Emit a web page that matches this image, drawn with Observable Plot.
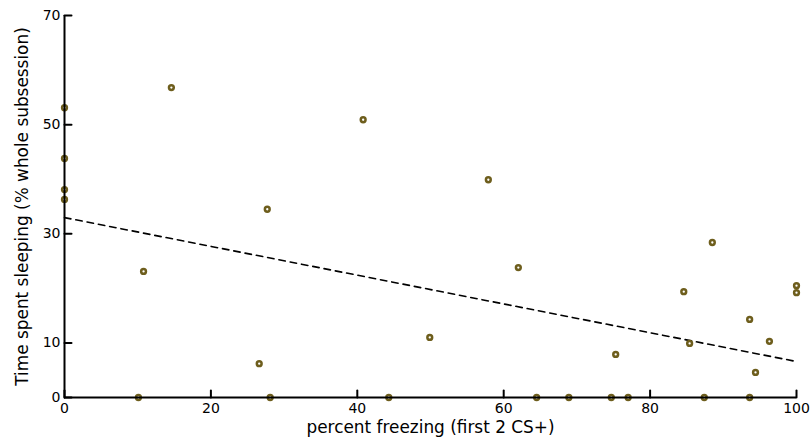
<!DOCTYPE html>
<html><head><meta charset="utf-8">
<script src="https://cdn.jsdelivr.net/npm/d3@7"></script>
<script src="https://cdn.jsdelivr.net/npm/@observablehq/plot@0.6"></script>
<style>body{margin:0;background:#fff;}</style>
</head><body><div id="chart"></div>
<script>
const freezing = [0, 0, 0, 0, 10.1, 10.8, 14.6, 26.6, 27.7, 28.1, 40.8, 44.3, 49.9, 57.9, 62.0, 64.5, 68.9, 74.7, 75.3, 77.0, 84.6, 85.4, 87.4, 88.5, 93.6, 93.6, 94.4, 96.3, 100, 100];
const sleeping = [53.1, 43.8, 38.1, 36.3, 0, 23.1, 56.8, 6.2, 34.5, 0, 50.9, 0, 11.0, 39.9, 23.8, 0, 0, 0, 7.9, 0, 19.4, 9.9, 0, 28.4, 14.3, 0, 4.6, 10.3, 20.5, 19.2];
const xTicks = [0, 20, 40, 60, 80, 100];
const yTicks = [0, 10, 30, 50, 70];
const xLabel = "percent freezing (first 2 CS+)";
const yLabel = "Time spent sleeping (% whole subsession)";

const data = freezing.map((x, i) => ({x, y: sleeping[i]}));
const olive = "#6e5e1d";
const font = "DejaVu Sans";
const tickShape = {draw(context, l) { context.moveTo(0, 0); context.lineTo(0, -l); }};

const plot = Plot.plot({
  width: 810, height: 443,
  marginLeft: 64, marginRight: 14, marginTop: 15, marginBottom: 46,
  style: "font-family: 'DejaVu Sans'; font-size: 14px; background: white; color: black;",
  x: {domain: [0, 100]},
  y: {domain: [0, 70]},
  marks: [
    Plot.axisX({ticks: xTicks, tickSize: 0, tickPadding: 6, label: null, tickFormat: d => String(d), fontSize: 14, fontFamily: font}),
    Plot.axisY({ticks: yTicks, tickSize: 0, tickPadding: 4, label: null, tickFormat: d => String(d), fontSize: 14, fontFamily: font}),
    Plot.linearRegressionY(data, {x: "x", y: "y", ci: 0, stroke: "black", strokeWidth: 1.6, strokeDasharray: "6.5,5"}),
    Plot.dot(data, {x: "x", y: "y", r: 2.4, stroke: olive, strokeWidth: 2.5, fill: "white"}),
    Plot.ruleX([0], {y1: 0, y2: 70, strokeWidth: 2}),
    Plot.ruleY([0], {x1: 0, x2: 100, strokeWidth: 2}),
    Plot.vector(xTicks, {x: d => d, y: () => 0, length: 7, rotate: 0, anchor: "start", shape: tickShape, stroke: "black", strokeWidth: 2, fill: "none"}),
    Plot.vector(yTicks, {x: () => 0, y: d => d, length: 7, rotate: 90, anchor: "start", shape: tickShape, stroke: "black", strokeWidth: 2, fill: "none"}),
    Plot.text([xLabel], {text: d => d, frameAnchor: "bottom", textAnchor: "middle", lineAnchor: "bottom", dy: 35.5, fontSize: 16.9, fontFamily: font}),
    Plot.text([yLabel], {text: d => d, frameAnchor: "left", textAnchor: "middle", lineAnchor: "bottom", rotate: -90, dx: -36.5, fontSize: 16.9, fontFamily: font})
  ]
});
document.getElementById("chart").appendChild(plot);
</script>
</body></html>
